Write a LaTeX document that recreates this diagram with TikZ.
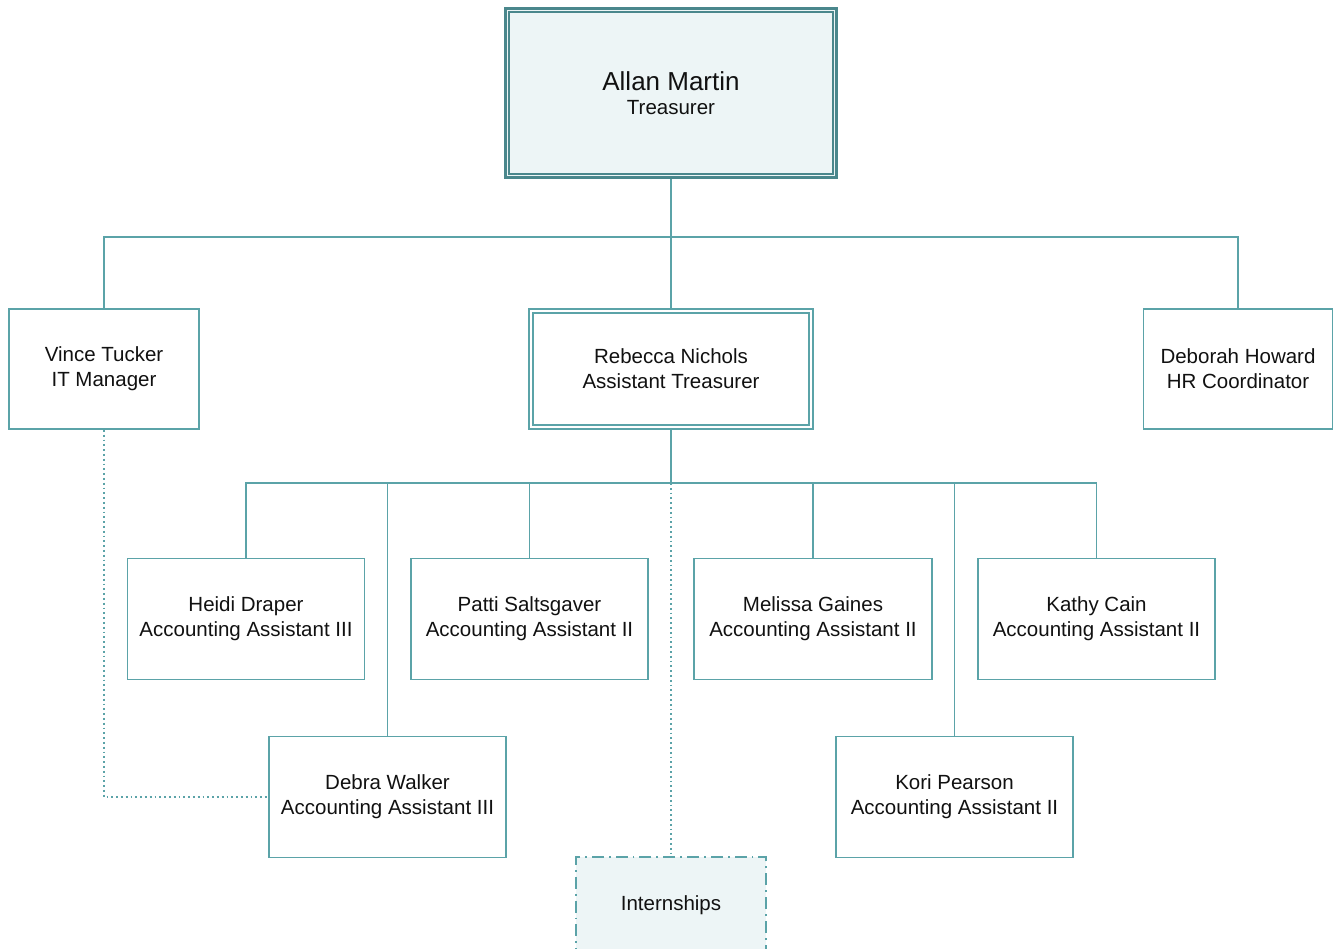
\documentclass[tikz,border=0pt]{standalone}
\usepackage{fontspec}
\setmainfont{Liberation Sans}
\definecolor{ln}{HTML}{5BA3A8}
\definecolor{lndark}{HTML}{4A878C}
\definecolor{boxfill}{HTML}{EDF5F6}
\definecolor{txt}{HTML}{111111}
\begin{document}
\begin{tikzpicture}[x=1pt,y=-1pt,
  box/.style={draw=ln, line width=1.8pt, fill=white, inner sep=0pt, align=center,
    text=txt, font=\fontsize{20.5}{25}\selectfont},
  conn/.style={draw=ln, line width=1.8pt},
  dotconn/.style={draw=ln, line width=1.8pt, dash pattern=on 1.8pt off 3pt},
]
\useasboundingbox (0,0) rectangle (1333,949);
\clip (0,0) rectangle (1333,949);
\fill[white] (0,0) rectangle (1333,949);

% nodes
\node[box, draw=lndark, line width=3pt, fill=boxfill, minimum width=331, minimum height=169] (allan) at (671,93)
  {{\fontsize{26}{29}\selectfont Allan Martin}\\[-1pt]Treasurer};
\draw[lndark, line width=2pt] ([shift={(5,5)}]allan.north west) rectangle ([shift={(-5,-5)}]allan.south east);

\node[box, minimum width=190, minimum height=120] (vince) at (104,369) {Vince Tucker\\IT Manager};
\node[box, minimum width=284, minimum height=120] (rebecca) at (671,369) {Rebecca Nichols\\Assistant Treasurer};
\draw[ln, line width=1.8pt] ([shift={(5,5)}]rebecca.north west) rectangle ([shift={(-5,-5)}]rebecca.south east);
\node[box, minimum width=189, minimum height=120] (deborah) at (1238,369) {Deborah Howard\\HR Coordinator};

\node[box, minimum width=237, minimum height=121] (heidi) at (246,619) {Heidi Draper\\Accounting Assistant III};
\node[box, minimum width=237, minimum height=121] (patti) at (529.5,619) {Patti Saltsgaver\\Accounting Assistant II};
\node[box, minimum width=238, minimum height=121] (melissa) at (813,619) {Melissa Gaines\\Accounting Assistant II};
\node[box, minimum width=237, minimum height=121] (kathy) at (1096.5,619) {Kathy Cain\\Accounting Assistant II};
\node[box, minimum width=237, minimum height=121] (debra) at (387.5,797) {Debra Walker\\Accounting Assistant III};
\node[box, minimum width=237, minimum height=121] (kori) at (954.5,797) {Kori Pearson\\Accounting Assistant II};

\node[box, fill=boxfill, minimum width=190, minimum height=100, dash pattern=on 12pt off 5pt on 1.8pt off 5pt] (intern) at (671,907) {\raisebox{8pt}{Internships}};

% connectors
\coordinate (busA) at (671,237);
\coordinate (busB) at (671,483);
\draw[conn] (allan.south) -- (busA);
\draw[conn] (busA) -| (vince.north);
\draw[conn] (busA) -| (deborah.north);
\draw[conn] (busA) -- (rebecca.north);

\draw[conn] (rebecca.south) -- (busB);
\draw[conn] (busB) -| (heidi.north);
\draw[conn] (busB) -| (debra.north);
\draw[conn] (busB) -| (patti.north);
\draw[conn] (busB) -| (melissa.north);
\draw[conn] (busB) -| (kori.north);
\draw[conn] (busB) -| (kathy.north);

\draw[dotconn] (busB) -- (intern.north);
\draw[dotconn] (vince.south) |- (debra.west);
\end{tikzpicture}
\end{document}
